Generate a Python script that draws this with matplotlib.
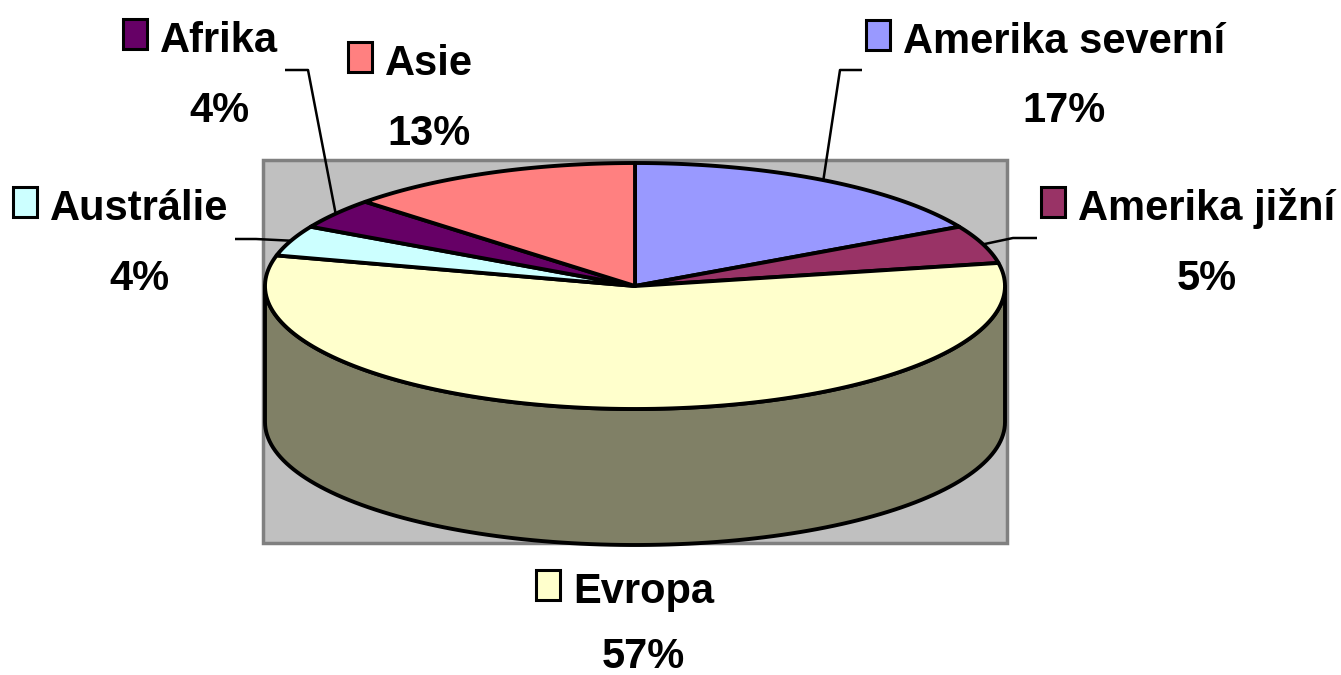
import numpy as np
import matplotlib
matplotlib.use('Agg')
import matplotlib.pyplot as plt
from matplotlib.patches import Polygon, Rectangle

# data, clockwise from 12 o'clock
continents = ['Amerika severní', 'Amerika jižní', 'Evropa', 'Austrálie', 'Afrika', 'Asie']
shares = [17, 5, 57, 4, 4, 13]
top_colors = ['#9999FF', '#993366', '#FFFFCC', '#CCFFFF', '#660066', '#FF8080']

# pie geometry in pixels
CX, CY = 635, 286
RX, RY = 370, 123
DEPTH = 136

# label layout: text left x, name baseline, percent baseline
label_layout = {
    'Amerika severní': (903, 53, 122),
    'Amerika jižní': (1078, 220, 290),
    'Evropa': (573, 603, 668),
    'Austrálie': (50, 220, 290),
    'Afrika': (160, 52, 122),
    'Asie': (385, 75, 145),
}
# leader lines: elbow point and the end of the short horizontal stub
leaders = {
    'Amerika severní': ((840, 70), (862, 70)),
    'Amerika jižní': ((1013, 238), (1037, 238)),
    'Austrálie': ((256, 239), (235, 239)),
    'Afrika': ((308, 70), (285, 70)),
}


def ell(theta, dy=0.0):
    t = np.radians(theta)
    return CX + RX * np.sin(t), CY - RY * np.cos(t) + dy


def darker(c, f=0.5):
    rgb = np.array(matplotlib.colors.to_rgb(c)) * f
    return tuple(rgb)


fig = plt.figure(figsize=(13.41, 6.75), dpi=100)
fig.patch.set_facecolor('white')
ax = fig.add_axes([0, 0, 1, 1])
ax.set_xlim(0, 1341)
ax.set_ylim(675, 0)
ax.axis('off')

ax.add_patch(Rectangle((263, 160), 744, 383, facecolor='#C0C0C0',
                       edgecolor='#808080', lw=2.5, zorder=1))

total = float(sum(shares))
bounds = np.concatenate([[0], np.cumsum(shares) / total * 360.0])

# side walls (only front half visible)
for i, col in enumerate(top_colors):
    s = max(bounds[i], 90.0)
    e = min(bounds[i + 1], 270.0)
    if e <= s:
        continue
    th = np.linspace(s, e, 120)
    xt, yt = ell(th)
    xb, yb = ell(th[::-1], DEPTH)
    pts = np.column_stack([np.concatenate([xt, xb]), np.concatenate([yt, yb])])
    ax.add_patch(Polygon(pts, closed=True, facecolor=darker(col),
                         edgecolor='black', lw=2.8, joinstyle='round', zorder=2))

# top faces
for i, col in enumerate(top_colors):
    th = np.linspace(bounds[i], bounds[i + 1], 150)
    xs, ys = ell(th)
    pts = np.column_stack([np.concatenate([[CX], xs]), np.concatenate([[CY], ys])])
    ax.add_patch(Polygon(pts, closed=True, facecolor=col, edgecolor='black',
                         lw=2.8, joinstyle='round', zorder=3))

# labels
fig.canvas.draw()
renderer = fig.canvas.get_renderer()
inv = ax.transData.inverted()
font = dict(family='Liberation Sans', weight='bold', fontsize=30, color='black')
for i, name in enumerate(continents):
    tx, yname, ypct = label_layout[name]
    t = ax.text(tx, yname, name, ha='left', va='baseline', zorder=5, **font)
    bb = t.get_window_extent(renderer)
    (x0, _), (x1, _) = inv.transform([[bb.x0, bb.y0], [bb.x1, bb.y1]])
    ax.text((x0 + x1) / 2, ypct, f'{shares[i]}%', ha='center', va='baseline',
            zorder=5, **font)
    ax.add_patch(Rectangle((tx - 37, yname - 33), 24, 30, facecolor=top_colors[i],
                           edgecolor='black', lw=2.2, zorder=5))

    if name in leaders:
        mid = (bounds[i] + bounds[i + 1]) / 2
        ex, ey = ell(mid)
        (bx, by), (sx, sy) = leaders[name]
        ax.plot([ex, bx, sx], [ey, by, sy], color='black', lw=1.8,
                solid_capstyle='butt', zorder=4)

fig.savefig('out.png', dpi=100, facecolor='white')
